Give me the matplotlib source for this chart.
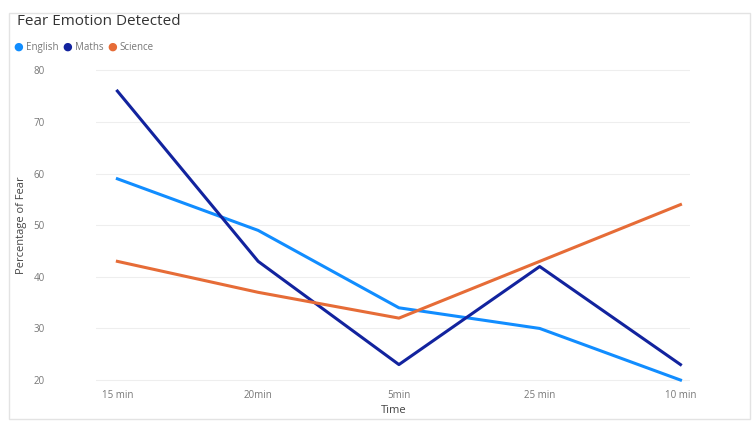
import matplotlib.pyplot as plt
import numpy as np

times = ["15 min", "20min", "5min", "25 min", "10 min"]
english = [59, 49, 34, 30, 20]
maths = [76, 43, 23, 42, 23]
science = [43, 37, 32, 43, 54]

series = [("English", english, "#118DFF"),
          ("Maths", maths, "#12239E"),
          ("Science", science, "#E66C37")]

plt.rcParams['font.family'] = ['Open Sans', 'DejaVu Sans']

fig = plt.figure(figsize=(7.52, 4.21), dpi=100)
ax = fig.add_axes([0.128, 0.085, 0.79, 0.76])

x = np.arange(len(times))
for name, vals, col in series:
    ax.plot(x, vals, color=col, linewidth=2.2, label=name)

ax.set_xlim(-0.15, 4.07)
ax.set_ylim(19, 81)
ax.set_yticks(np.arange(20, 81, 10))
ax.set_xticks(x)
ax.set_xticklabels(times)
ax.tick_params(length=0, labelsize=7, colors="#777777")
ax.tick_params(axis='y', pad=37)
ax.grid(axis='y', color="#eeeeee", linewidth=0.8)
for s in ax.spines.values():
    s.set_visible(False)
ax.set_ylabel("Percentage of Fear", fontsize=8, color="#444444")
ax.yaxis.set_label_coords(-0.117, 0.5)
ax.set_xlabel("Time", fontsize=8, color="#444444", labelpad=3)

fig.text(0.022, 0.948, "Fear Emotion Detected", fontsize=11, color="#333333", va='center')

# legend row with round markers
lx, ly = 0.018, 0.888
for name, vals, col in series:
    fig.text(lx, ly, "\u25CF", color=col, fontsize=8, va='center')
    t = fig.text(lx + 0.016, ly, name, color="#777777", fontsize=7, va='center')
    fig.canvas.draw()
    bb = t.get_window_extent().transformed(fig.transFigure.inverted())
    lx = bb.x1 + 0.006

# outer frame
fig.add_artist(plt.Rectangle((0.012, 0.005), 0.985, 0.965, transform=fig.transFigure,
                             fill=False, edgecolor="#e3e3e3", linewidth=1))

fig.savefig("out.png", dpi=100)
